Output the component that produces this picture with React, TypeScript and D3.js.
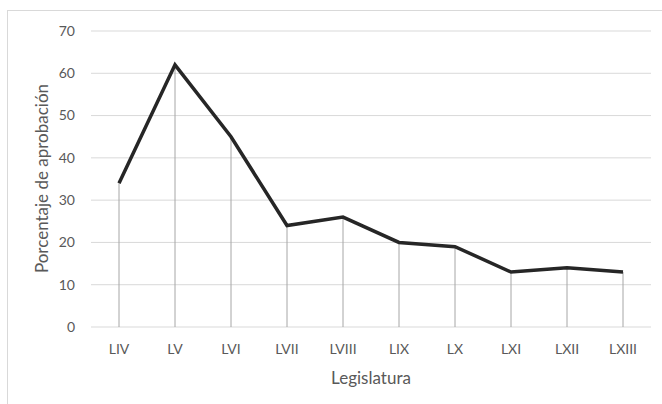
import React from "react";
import * as d3 from "d3";

const categories = ["LIV", "LV", "LVI", "LVII", "LVIII", "LIX", "LX", "LXI", "LXII", "LXIII"];
const values = [34, 62, 45, 24, 26, 20, 19, 13, 14, 13];
const yTicks = [0, 10, 20, 30, 40, 50, 60, 70];
const xTitle = "Legislatura";
const yTitle = "Porcentaje de aprobación";

const W = 662, H = 404;
const plot = { left: 91, right: 651, top: 31, bottom: 327 };
const font = "Lato, 'Open Sans', sans-serif";
const textColor = "#595959";

export default function App() {
  const x = d3.scaleBand<string>().domain(categories).range([plot.left, plot.right]);
  const y = d3.scaleLinear().domain([0, 70]).range([plot.bottom, plot.top]);
  const cx = (c: string) => (x(c) as number) + x.bandwidth() / 2;
  const line = d3
    .line<number>()
    .x((_, i) => cx(categories[i]))
    .y((v) => y(v));
  return (
    <svg width={W} height={H} style={{ position: "absolute", left: 0, top: 0, display: "block" }}>
      <rect x={0} y={0} width={W} height={H} fill="#fff" />
      <rect x={7.5} y={10.5} width={W + 10} height={H + 10} fill="none" stroke="#d9d9d9" strokeWidth={1} />
      {yTicks.map((t) => (
        <g key={t}>
          <line x1={plot.left} x2={plot.right} y1={y(t)} y2={y(t)} stroke="#d9d9d9" strokeWidth={1} />
          <text x={75} y={y(t)} dy="0.35em" textAnchor="end" fontFamily={font} fontSize={14} fill={textColor}>
            {t}
          </text>
        </g>
      ))}
      {categories.map((c, i) => (
        <g key={c}>
          <line x1={cx(c)} x2={cx(c)} y1={y(0)} y2={y(values[i])} stroke="#a6a6a6" strokeWidth={1} />
          <text x={cx(c)} y={349} dy="0.35em" textAnchor="middle" fontFamily={font} fontSize={14} fill={textColor}>
            {c}
          </text>
        </g>
      ))}
      <path d={line(values) as string} fill="none" stroke="#262626" strokeWidth={3.5} strokeLinejoin="miter" />
      <text x={(plot.left + plot.right) / 2} y={378} dy="0.35em" textAnchor="middle" fontFamily={font} fontSize={17} fill={textColor}>
        {xTitle}
      </text>
      <text
        transform={`translate(42,${178.5}) rotate(-90)`}
        dy="0.35em"
        textAnchor="middle"
        fontFamily={font}
        fontSize={17}
        fill={textColor}
      >
        {yTitle}
      </text>
    </svg>
  );
}
